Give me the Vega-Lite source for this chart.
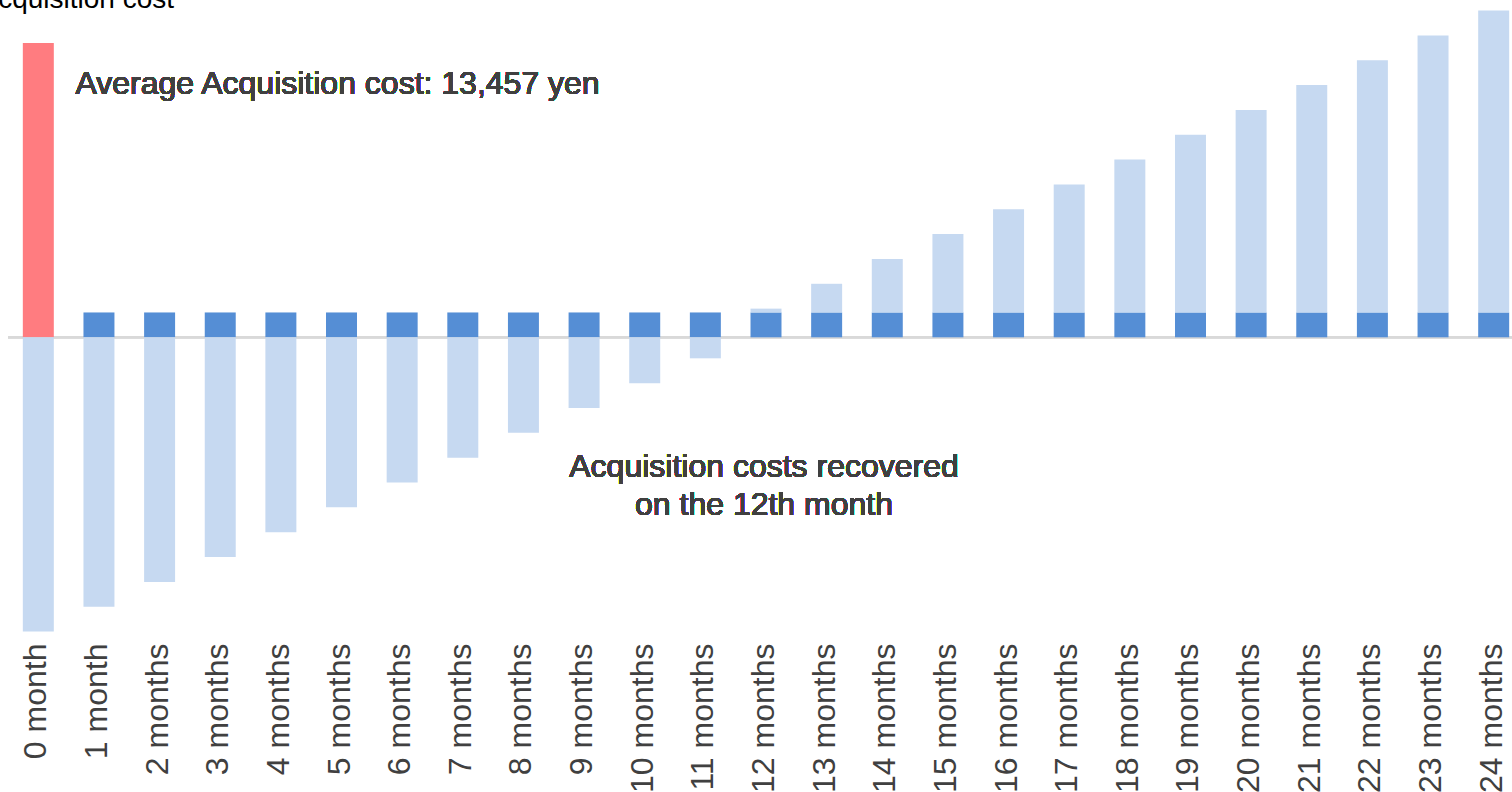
{
  "$schema": "https://vega.github.io/schema/vega-lite/v6.json",
  "width": 1516,
  "height": 632,
  "autosize": {"type": "none"},
  "padding": {"left": 8, "top": 0, "right": 0, "bottom": 160},
  "background": "white",
  "config": {
    "view": {"stroke": null},
    "font": "Liberation Sans"
  },
  "datasets": {
    "payback": [
      {"month": "0 month", "series": "Acquisition cost", "yen": 13457},
      {"month": "0 month", "series": "Net balance", "yen": -13457},
      {"month": "1 month", "series": "Monthly profit", "yen": 1136},
      {"month": "1 month", "series": "Net balance", "yen": -12321},
      {"month": "2 months", "series": "Monthly profit", "yen": 1136},
      {"month": "2 months", "series": "Net balance", "yen": -11185},
      {"month": "3 months", "series": "Monthly profit", "yen": 1136},
      {"month": "3 months", "series": "Net balance", "yen": -10049},
      {"month": "4 months", "series": "Monthly profit", "yen": 1136},
      {"month": "4 months", "series": "Net balance", "yen": -8913},
      {"month": "5 months", "series": "Monthly profit", "yen": 1136},
      {"month": "5 months", "series": "Net balance", "yen": -7777},
      {"month": "6 months", "series": "Monthly profit", "yen": 1136},
      {"month": "6 months", "series": "Net balance", "yen": -6641},
      {"month": "7 months", "series": "Monthly profit", "yen": 1136},
      {"month": "7 months", "series": "Net balance", "yen": -5505},
      {"month": "8 months", "series": "Monthly profit", "yen": 1136},
      {"month": "8 months", "series": "Net balance", "yen": -4369},
      {"month": "9 months", "series": "Monthly profit", "yen": 1136},
      {"month": "9 months", "series": "Net balance", "yen": -3233},
      {"month": "10 months", "series": "Monthly profit", "yen": 1136},
      {"month": "10 months", "series": "Net balance", "yen": -2097},
      {"month": "11 months", "series": "Monthly profit", "yen": 1136},
      {"month": "11 months", "series": "Net balance", "yen": -961},
      {"month": "12 months", "series": "Monthly profit", "yen": 1136},
      {"month": "12 months", "series": "Net balance", "yen": 175},
      {"month": "13 months", "series": "Monthly profit", "yen": 1136},
      {"month": "13 months", "series": "Net balance", "yen": 1311},
      {"month": "14 months", "series": "Monthly profit", "yen": 1136},
      {"month": "14 months", "series": "Net balance", "yen": 2447},
      {"month": "15 months", "series": "Monthly profit", "yen": 1136},
      {"month": "15 months", "series": "Net balance", "yen": 3583},
      {"month": "16 months", "series": "Monthly profit", "yen": 1136},
      {"month": "16 months", "series": "Net balance", "yen": 4719},
      {"month": "17 months", "series": "Monthly profit", "yen": 1136},
      {"month": "17 months", "series": "Net balance", "yen": 5855},
      {"month": "18 months", "series": "Monthly profit", "yen": 1136},
      {"month": "18 months", "series": "Net balance", "yen": 6991},
      {"month": "19 months", "series": "Monthly profit", "yen": 1136},
      {"month": "19 months", "series": "Net balance", "yen": 8127},
      {"month": "20 months", "series": "Monthly profit", "yen": 1136},
      {"month": "20 months", "series": "Net balance", "yen": 9263},
      {"month": "21 months", "series": "Monthly profit", "yen": 1136},
      {"month": "21 months", "series": "Net balance", "yen": 10399},
      {"month": "22 months", "series": "Monthly profit", "yen": 1136},
      {"month": "22 months", "series": "Net balance", "yen": 11535},
      {"month": "23 months", "series": "Monthly profit", "yen": 1136},
      {"month": "23 months", "series": "Net balance", "yen": 12671},
      {"month": "24 months", "series": "Monthly profit", "yen": 1136},
      {"month": "24 months", "series": "Net balance", "yen": 13807}
    ]
  },
  "data": {"name": "payback"},
  "encoding": {
    "x": {
      "field": "month",
      "type": "nominal",
      "scale": {
        "domain": ["0 month", "1 month", "2 months", "3 months", "4 months", "5 months", "6 months", "7 months", "8 months", "9 months", "10 months", "11 months", "12 months", "13 months", "14 months", "15 months", "16 months", "17 months", "18 months", "19 months", "20 months", "21 months", "22 months", "23 months", "24 months"],
        "paddingInner": 0.489,
        "paddingOuter": 0.2445
      },
      "axis": {
        "title": null,
        "domain": false,
        "ticks": false,
        "labelAngle": -90,
        "labelFont": "Liberation Sans",
        "labelFontSize": 32,
        "labelColor": "#404040",
        "labelPadding": 11,
        "labelOffset": -2,
        "labelOverlap": false
      }
    }
  },
  "layer": [
    {
      "mark": {"type": "rule", "color": "#d9d9d9", "strokeWidth": 2},
      "encoding": {"x": null, "y": {"datum": 0, "type": "quantitative"}}
    },
    {
      "mark": {"type": "bar"},
      "encoding": {
        "y": {
          "field": "yen",
          "type": "quantitative",
          "stack": "zero",
          "scale": {"domain": [-13477, 15425], "nice": false, "zero": false},
          "axis": {
            "title": "Acquisition cost",
            "labels": false,
            "ticks": false,
            "domain": false,
            "grid": false,
            "titleAngle": 0,
            "titleAlign": "left",
            "titleBaseline": "alphabetic",
            "titleX": -29,
            "titleY": 7,
            "titleFont": "Liberation Sans",
            "titleFontSize": 28,
            "titleFontWeight": "normal",
            "titleColor": "#000000"
          }
        },
        "color": {
          "field": "series",
          "type": "nominal",
          "scale": {
            "domain": ["Acquisition cost", "Monthly profit", "Net balance"],
            "range": ["#ff7c80", "#558ed5", "#c6d9f1"]
          },
          "legend": null
        },
        "order": {"field": "series", "sort": "ascending"}
      }
    },
    {
      "mark": {
        "type": "text",
        "align": "left",
        "baseline": "alphabetic",
        "dx": -8,
        "font": "Liberation Sans",
        "fontSize": 32,
        "color": "#404040"
      },
      "encoding": {
        "x": {"datum": "1 month", "bandPosition": 0},
        "y": {"datum": 11112, "type": "quantitative"},
        "text": {"value": "Average Acquisition cost: 13,457 yen"}
      }
    },
    {
      "mark": {
        "type": "text",
        "align": "center",
        "baseline": "alphabetic",
        "dx": -2,
        "font": "Liberation Sans",
        "fontSize": 32,
        "lineHeight": 38,
        "color": "#404040"
      },
      "encoding": {
        "x": {"datum": "12 months"},
        "y": {"datum": -6402, "type": "quantitative"},
        "text": {"value": ["Acquisition costs recovered", "on the 12th month"]}
      }
    }
  ]
}
